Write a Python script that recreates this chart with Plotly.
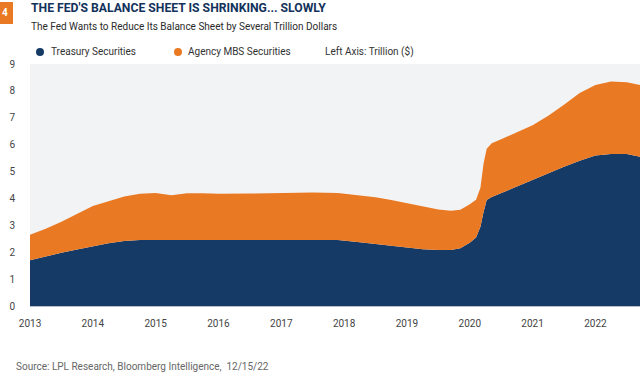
import plotly.graph_objects as go

# ---- data (decimal years, trillions $) ----
years = [2013.0, 2013.25, 2013.5, 2013.75, 2014.0, 2014.25, 2014.5, 2014.75,
         2015.0, 2015.25, 2015.5, 2015.75, 2016.0, 2016.5, 2017.0, 2017.5,
         2017.9, 2018.25, 2018.5, 2018.75, 2019.0, 2019.25, 2019.5, 2019.7,
         2019.85, 2020.0, 2020.1, 2020.17, 2020.22, 2020.27, 2020.35, 2020.5,
         2020.75, 2021.0, 2021.25, 2021.5, 2021.75, 2022.0, 2022.25, 2022.5,
         2022.71]
treasury = [1.70, 1.85, 1.98, 2.10, 2.22, 2.33, 2.42, 2.45,
            2.45, 2.45, 2.45, 2.45, 2.45, 2.45, 2.45, 2.45,
            2.45, 2.37, 2.31, 2.25, 2.18, 2.11, 2.08, 2.08,
            2.15, 2.35, 2.55, 2.95, 3.50, 3.94, 4.05, 4.20,
            4.45, 4.70, 4.95, 5.18, 5.40, 5.60, 5.65, 5.65,
            5.55]
total = [2.65, 2.87, 3.13, 3.42, 3.72, 3.90, 4.07, 4.17,
         4.20, 4.12, 4.19, 4.19, 4.17, 4.18, 4.21, 4.22,
         4.20, 4.10, 4.04, 3.94, 3.82, 3.70, 3.59, 3.54,
         3.58, 3.78, 3.95, 4.40, 5.30, 5.85, 6.05, 6.20,
         6.47, 6.72, 7.08, 7.48, 7.92, 8.22, 8.35, 8.32,
         8.22]
mbs = [round(t - s, 3) for t, s in zip(total, treasury)]

tick_years = list(range(2013, 2023))
tick_labels = [str(y) for y in tick_years]

NAVY = "#163A66"
ORANGE = "#EA7923"

W, H = 640, 376
L, R, T, B = 30, 0, 64, 70
PW, PH = W - L - R, H - T - B


def px(x):
    return (x - L) / PW


def py(y):
    return (H - B - y) / PH


fig = go.Figure()
fig.add_trace(go.Scatter(x=years, y=treasury, mode="lines", stackgroup="one",
                         line=dict(width=0, color=NAVY), fillcolor=NAVY,
                         name="Treasury Securities", hoverinfo="skip"))
fig.add_trace(go.Scatter(x=years, y=mbs, mode="lines", stackgroup="one",
                         line=dict(width=0, color=ORANGE), fillcolor=ORANGE,
                         name="Agency MBS Securities", hoverinfo="skip"))

TICKFONT = dict(family="Liberation Sans Narrow, Roboto, sans-serif", size=10, color="#444")

fig.update_layout(
    width=W, height=H,
    margin=dict(l=L, r=R, t=T, b=B),
    paper_bgcolor="white",
    plot_bgcolor="#F2F3F5",
    showlegend=False,
    xaxis=dict(range=[2013.0, 2022.71], tickvals=tick_years, ticktext=tick_labels,
               showgrid=False, zeroline=False, showline=True, linecolor="#B8BEC8",
               linewidth=1, ticks="outside", ticklen=8, tickcolor="rgba(0,0,0,0)",
               tickfont=TICKFONT, fixedrange=True),
    yaxis=dict(range=[0, 9], dtick=1, showgrid=False, zeroline=False,
               ticks="outside", ticklen=12, tickcolor="rgba(0,0,0,0)",
               tickfont=TICKFONT, fixedrange=True),
    font=dict(family="Roboto, sans-serif"),
)

# orange number box
fig.add_shape(type="rect", xref="paper", yref="paper",
              x0=px(0), x1=px(13), y0=py(24), y1=py(2),
              fillcolor=ORANGE, line=dict(width=0))
fig.add_annotation(xref="paper", yref="paper", x=px(5), y=py(13), text="<b>4</b>",
                   showarrow=False, font=dict(size=10, color="white", family="Roboto"),
                   xanchor="center", yanchor="middle")

# title & subtitle
fig.add_annotation(xref="paper", yref="paper", x=px(29), y=py(8),
                   text="<b>THE FED'S BALANCE SHEET IS SHRINKING... SLOWLY</b>",
                   showarrow=False, xanchor="left", yanchor="middle",
                   font=dict(size=12.2, color="#13325B", family="Roboto"))
fig.add_annotation(xref="paper", yref="paper", x=px(29), y=py(26),
                   text="The Fed Wants to Reduce Its Balance Sheet by Several Trillion Dollars",
                   showarrow=False, xanchor="left", yanchor="middle",
                   font=dict(size=10, color="#2B2B2B", family="Roboto"))

# legend (manual)
LEGFONT = dict(size=10, color="#333", family="Roboto")
for cx, col in [(40, NAVY), (178, ORANGE)]:
    fig.add_shape(type="circle", xref="paper", yref="paper",
                  x0=px(cx - 4), x1=px(cx + 4), y0=py(56), y1=py(48),
                  fillcolor=col, line=dict(width=0))
fig.add_annotation(xref="paper", yref="paper", x=px(49), y=py(52),
                   text="Treasury Securities", showarrow=False,
                   xanchor="left", yanchor="middle", font=LEGFONT)
fig.add_annotation(xref="paper", yref="paper", x=px(186), y=py(52),
                   text="Agency MBS Securities", showarrow=False,
                   xanchor="left", yanchor="middle", font=LEGFONT)
fig.add_annotation(xref="paper", yref="paper", x=px(323), y=py(52),
                   text="Left Axis: Trillion ($)", showarrow=False,
                   xanchor="left", yanchor="middle", font=LEGFONT)

# source
fig.add_annotation(xref="paper", yref="paper", x=px(14), y=py(366),
                   text="Source: LPL Research, Bloomberg Intelligence,  12/15/22",
                   showarrow=False, xanchor="left", yanchor="middle",
                   font=dict(size=10, color="#666", family="Roboto"))

fig.write_html("out.html", config={"displayModeBar": False, "staticPlot": True},
               post_script="document.body.style.margin='0';document.body.style.overflow='hidden';")
